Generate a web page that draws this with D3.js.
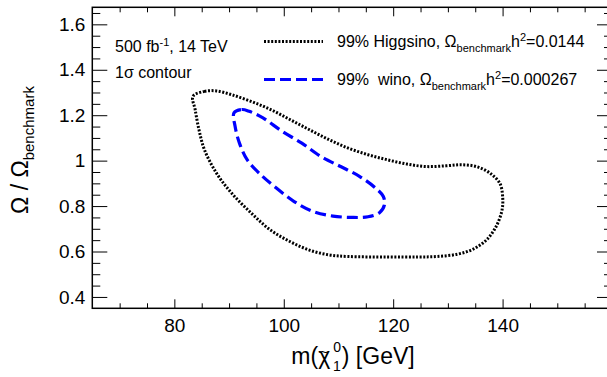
<!DOCTYPE html>
<html>
<head>
<meta charset="UTF-8">
<title>Omega contour</title>
<style>
  body { margin: 0; background: #fff; }
  text { font-family: "Liberation Sans", Arial, sans-serif; fill: #000; }
  .axis path { display: none; }
  .axis line { stroke: #000; stroke-width: 1; }
</style>
<script src="https://cdn.jsdelivr.net/npm/d3@7"></script>
</head>
<body>
<script>
// datos
var xMajor = [80, 100, 120, 140];
var xMinor = [70, 75, 85, 90, 95, 105, 110, 115, 125, 130, 135, 145, 150, 155];
var yMajor = [0.4, 0.6, 0.8, 1.0, 1.2, 1.4, 1.6];
var yMinor = [0.45, 0.5, 0.55, 0.65, 0.7, 0.75, 0.85, 0.9, 0.95, 1.05, 1.1, 1.15,
              1.25, 1.3, 1.35, 1.45, 1.5, 1.55, 1.65];

// contorno Higgsino (m, Omega/Omega_bench)
var higgsMass = [83.4, 85.5, 87.7, 90.5, 94.1, 97.6, 101.2, 104.7, 108.3, 111.8, 115.4, 118.9,
                 122.5, 126.0, 129.6, 132.4, 135.2, 137.7, 139.5, 140.0, 139.9, 138.8, 137.0,
                 134.5, 131.7, 128.1, 124.6, 118.9, 111.8, 108.3, 104.7, 101.2, 97.6, 94.1,
                 90.5, 87.7, 85.5, 84.5, 83.8];
var higgsOmega = [1.283, 1.305, 1.307, 1.29, 1.26, 1.225, 1.18, 1.136, 1.092, 1.055, 1.026, 1.004,
                  0.985, 0.974, 0.977, 0.982, 0.974, 0.945, 0.90, 0.845, 0.783, 0.709, 0.65,
                  0.609, 0.588, 0.578, 0.576, 0.576, 0.578, 0.585, 0.606, 0.643, 0.694, 0.768,
                  0.856, 0.945, 1.048, 1.136, 1.225];

// contorno wino
var winoMass = [90.9, 92.3, 93.7, 96.2, 99.7, 103.3, 106.8, 110.4, 113.9, 116.8, 118.2, 118.4,
                117.5, 115.4, 112.5, 109.0, 105.4, 101.9, 98.3, 95.5, 93.3, 91.9, 91.1];
var winoOmega = [1.21, 1.225, 1.217, 1.188, 1.129, 1.077, 1.018, 0.974, 0.93, 0.879, 0.842, 0.805,
                 0.771, 0.753, 0.75, 0.756, 0.776, 0.82, 0.886, 0.945, 1.004, 1.077, 1.151];

var ancho = 607, alto = 377;
var x0 = 92.3, x1 = 612, yTop = 7.3, yBot = 308.3;

var svg = d3.select("body").append("svg")
    .attr("width", ancho).attr("height", alto);

var x = d3.scaleLinear().domain([65, 160]).range([x0, x1]);
var y = d3.scaleLinear().domain([0.35, 1.675]).range([yBot, yTop]);

// ejes (marcas hacia dentro, como ROOT)
function eje(gen, pos, vals, size, etiquetas, pad) {
  var a = gen.tickValues(vals).tickSizeInner(-size).tickSizeOuter(0);
  if (etiquetas) a.tickFormat(etiquetas).tickPadding(pad);
  else a.tickFormat("");
  svg.append("g").attr("class", "axis").attr("transform", pos).call(a);
}
var fx = function(d) { return d; };
var fy = function(d) { return d === 1 ? "1" : d.toFixed(1); };

eje(d3.axisBottom(x), "translate(0," + yBot + ")", xMajor, 9, fx, 10);
eje(d3.axisBottom(x), "translate(0," + yBot + ")", xMinor, 5, null);
eje(d3.axisTop(x), "translate(0," + yTop + ")", xMajor.concat([160]), 9, null);
eje(d3.axisTop(x), "translate(0," + yTop + ")", xMinor, 5, null);
eje(d3.axisLeft(y), "translate(" + x0 + ",0)", yMajor, 15, fy, 7);
eje(d3.axisLeft(y), "translate(" + x0 + ",0)", yMinor, 8, null);
eje(d3.axisRight(y), "translate(" + x1 + ",0)", yMajor, 15, null);
eje(d3.axisRight(y), "translate(" + x1 + ",0)", yMinor, 8, null);

svg.selectAll(".axis text").style("font-size", "19px");

svg.append("rect")
  .attr("x", x0).attr("y", yTop)
  .attr("width", x1 - x0).attr("height", yBot - yTop)
  .attr("fill", "none").attr("stroke", "#000").attr("stroke-width", 1.5);

// contornos
var linea = d3.line()
  .x(function(d) { return x(d[0]); })
  .y(function(d) { return y(d[1]); })
  .curve(d3.curveCatmullRomClosed.alpha(0.5));

var higgs = d3.zip(higgsMass, higgsOmega);
var wino = d3.zip(winoMass, winoOmega);

svg.append("path").datum(higgs).attr("d", linea)
  .attr("fill", "none").attr("stroke", "#000")
  .attr("stroke-width", 3).attr("stroke-dasharray", "2,1.6");

svg.append("path").datum(wino).attr("d", linea)
  .attr("fill", "none").attr("stroke", "#0000ff")
  .attr("stroke-width", 3.2).attr("stroke-dasharray", "11,5");

// textos
svg.append("text").attr("x", 115).attr("y", 52).style("font-size", "16px")
  .html('500 fb<tspan dy="-6" font-size="11px">-1</tspan><tspan dy="6">, 14 TeV</tspan>');
svg.append("text").attr("x", 115).attr("y", 78).style("font-size", "16px")
  .text("1\u03c3 contour");

// leyenda
svg.append("line").attr("x1", 264).attr("x2", 323).attr("y1", 41.5).attr("y2", 41.5)
  .attr("stroke", "#000").attr("stroke-width", 3).attr("stroke-dasharray", "2,1.6");
svg.append("line").attr("x1", 264).attr("x2", 323).attr("y1", 79.5).attr("y2", 79.5)
  .attr("stroke", "#0000ff").attr("stroke-width", 3.2).attr("stroke-dasharray", "11,5");

svg.append("text").attr("x", 337).attr("y", 47).style("font-size", "16px")
  .html('99% Higgsino, \u03a9<tspan dy="5" font-size="11px">benchmark</tspan>' +
        '<tspan dy="-5">h</tspan><tspan dy="-6" font-size="11px">2</tspan>' +
        '<tspan dy="6">=0.0144</tspan>');
svg.append("text").attr("x", 337).attr("y", 85).style("font-size", "16px")
  .html('99%\u00a0 wino, \u03a9<tspan dy="5" font-size="11px">benchmark</tspan>' +
        '<tspan dy="-5">h</tspan><tspan dy="-6" font-size="11px">2</tspan>' +
        '<tspan dy="6">=0.000267</tspan>');

// titulo eje x: m(chi~ 0/1) [GeV], la tilde aparte sobre la chi
var tx = svg.append("text").attr("x", 0).attr("y", 364)
  .style("font-size", "23px")
  .html('m(\u03c7<tspan dx="3" dy="-12" font-size="14px">0</tspan>' +
        '<tspan dx="-8" dy="19" font-size="14px">1</tspan>' +
        '<tspan dx="1" dy="-7">) [GeV]</tspan>');
var ancho_t = tx.node().getBBox().width;
var x_ini = 353 - ancho_t / 2;
tx.attr("x", x_ini);
var chiA = tx.node().getStartPositionOfChar(2).x;
var chiB = tx.node().getEndPositionOfChar(2).x;
svg.append("text").attr("x", (chiA + chiB) / 2).attr("y", 357)
  .attr("text-anchor", "middle").style("font-size", "14px")
  .text("~");

// titulo eje y
svg.append("text").attr("transform", "translate(28,150) rotate(-90)")
  .attr("text-anchor", "middle").style("font-size", "23px")
  .html('\u03a9 / \u03a9<tspan dy="6" font-size="15px">benchmark</tspan>');
</script>
</body>
</html>
